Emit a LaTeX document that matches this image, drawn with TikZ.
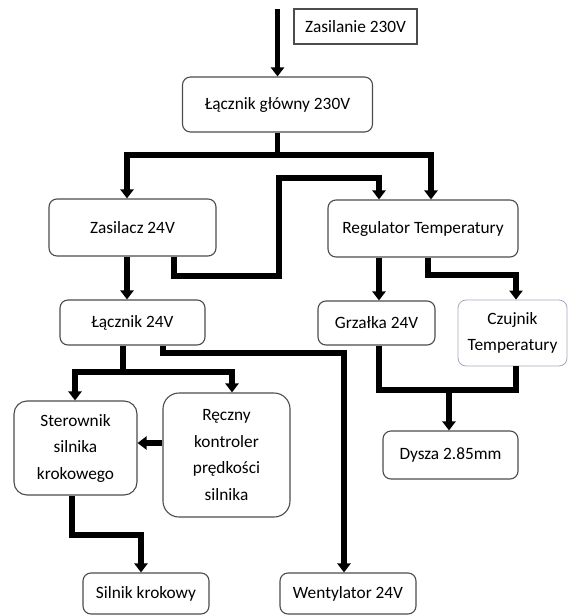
\documentclass[tikz,border=0pt]{standalone}
\usepackage{fontspec}
\setmainfont{Carlito}
\usetikzlibrary{arrows.meta,calc}
\begin{document}
\begin{tikzpicture}[x=1pt,y=-1pt,
  box/.style={draw=black!70,line width=1.1pt,rounded corners=8pt,align=center,
    inner sep=0pt,font=\fontsize{17.3}{26.5}\selectfont,text=black},
  conn/.style={line width=5.8pt,draw=black,line join=miter},
  arr/.style={conn,-{Triangle[width=13pt,length=9pt]}}]
\useasboundingbox (0,0) rectangle (568,616);
% nodes
\node[box,rounded corners=0pt,minimum width=123pt,minimum height=35pt] (zas) at (355.5,26.5) {Zasilanie 230V};
\node[box,minimum width=190pt,minimum height=55pt] (lg) at (277.5,104.5) {Łącznik główny 230V};
\node[box,minimum width=167pt,minimum height=57pt] (z24) at (132.5,227.5) {Zasilacz 24V};
\node[box,minimum width=190pt,minimum height=57pt] (reg) at (423,228.5) {Regulator Temperatury};
\node[box,minimum width=145pt,minimum height=45pt] (l24) at (132.5,322.5) {Łącznik 24V};
\node[box,minimum width=117pt,minimum height=44pt] (grz) at (376.5,323) {Grzałka 24V};
\node[box,draw=blue!25!black!35,line width=0.8pt,minimum width=109pt,minimum height=66pt] (czu) at (512.5,333) {Czujnik\\Temperatury};
\node[box,rounded corners=13pt,minimum width=123pt,minimum height=94pt] (ster) at (75.5,448) {Sterownik\\silnika\\krokowego};
\node[box,rounded corners=16pt,minimum width=127pt,minimum height=124pt] (recz) at (226.5,455) {Ręczny\\kontroler\\prędkości\\silnika};
\node[box,minimum width=135pt,minimum height=48pt] (dys) at (450.5,455) {Dysza 2.85mm};
\node[box,minimum width=126pt,minimum height=41pt] (sil) at (146,593.5) {Silnik krokowy};
\node[box,minimum width=136pt,minimum height=41pt] (went) at (348,593.5) {Wentylator 24V};
% helper coordinates
\coordinate (src) at (277.5,9);
\coordinate (xa) at (127,0);
\coordinate (xb) at (431,0);
\coordinate (xc) at (174,0);
\coordinate (xd) at (379,0);
\coordinate (xe) at (428,0);
\coordinate (xf) at (516,0);
\coordinate (xg) at (123,0);
\coordinate (xh) at (75,0);
\coordinate (xi) at (232,0);
\coordinate (xj) at (163,0);
\coordinate (xk) at (344,0);
\coordinate (xl) at (449,0);
\coordinate (xm) at (72,0);
\coordinate (xn) at (141,0);
\coordinate (ye) at (0,443);
% connectors
\draw[arr] (src) -- (lg.north);
\draw[arr] (lg.south) |- (127,155) -- (z24.north -| xa);
\draw[arr] (277.5,155) -- (431,155) -- (reg.north -| xb);
\draw[arr] (z24.south -| xc) |- (279,276) |- (379,178) -- (reg.north -| xd);
\draw[arr] (z24.south -| xa) -- (l24.north -| xa);
\draw[arr] (reg.south -| xd) -- (grz.north -| xd);
\draw[arr] (reg.south -| xe) |- (516,275) -- (czu.north -| xf);
\draw[arr] (l24.south -| xg) |- (75,372) -- (ster.north -| xh);
\draw[arr] (123,372) -- (232,372) -- (recz.north -| xi);
\draw[arr] (l24.south -| xj) |- (344,353) -- (went.north -| xk);
\draw[conn] (grz.south -| xd) |- (516,390) -- (czu.south -| xf);
\draw[arr] (449,390) -- (dys.north -| xl);
\draw[arr] (recz.west |- ye) -- (ster.east |- ye);
\draw[arr] (ster.south -| xm) |- (141,535) -- (sil.north -| xn);
\end{tikzpicture}
\end{document}
